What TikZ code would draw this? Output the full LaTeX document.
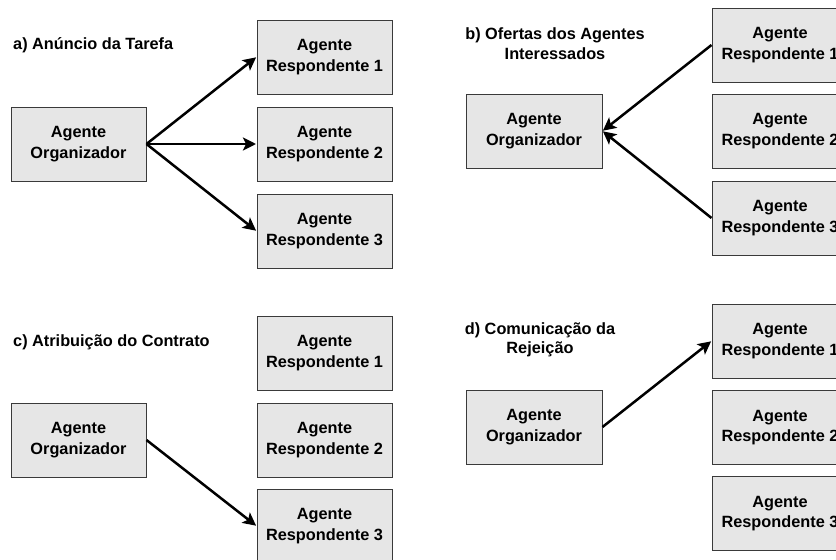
\documentclass[tikz,border=0pt]{standalone}
\usepackage{fontspec}
\setmainfont{Liberation Sans}
\usetikzlibrary{arrows.meta}
\definecolor{boxfill}{HTML}{E6E6E6}
\definecolor{boxline}{HTML}{3A3A3A}
\tikzset{
  agent/.style={draw=boxline, line width=1pt, fill=boxfill, minimum width=135pt,
    minimum height=74pt, inner sep=0pt, align=center,
    font=\fontsize{16.3}{20.7}\selectfont\bfseries},
  caption/.style={inner sep=0pt, align=center,
    font=\fontsize{16.3}{19.5}\selectfont\bfseries},
  msg/.style={line width=2.5pt, -{Stealth[length=13pt,width=13pt,inset=3pt]}, shorten >=0.5pt}
}
\begin{document}
\begin{tikzpicture}[x=1pt,y=-1pt]
\useasboundingbox (0,0) rectangle (836,560);
\clip (0,0) rectangle (836,560);
\fill[white] (0,0) rectangle (836,560);

% a) task announcement
\node[caption, anchor=west] (ta) at (13,45) {a) Anúncio da Tarefa};
\node[agent] (ao) at (78.5,144) {Agente\\Organizador};
\node[agent] (ar1) at (324.5,57) {Agente\\Respondente 1};
\node[agent] (ar2) at (324.5,144) {Agente\\Respondente 2};
\node[agent] (ar3) at (324.5,231) {Agente\\Respondente 3};
\draw[msg] (ao.east) -- (ar1.west);
\draw[msg] (ao.east) -- (ar2.west);
\draw[msg] (ao.east) -- (ar3.west);

% b) bids from the interested agents
\node[caption] (tb) at (555,43.5) {b) Ofertas dos Agentes\\Interessados};
\node[agent, minimum width=136pt] (bo) at (534,131) {Agente\\Organizador};
\node[agent, minimum width=136pt] (br1) at (780,45) {Agente\\Respondente 1};
\node[agent, minimum width=136pt] (br2) at (780,131) {Agente\\Respondente 2};
\node[agent, minimum width=136pt] (br3) at (780,218) {Agente\\Respondente 3};
\draw[msg] (br1.west) -- (bo.east);
\draw[msg] (br3.west) -- (bo.east);

% c) contract award
\node[caption, anchor=west] (tc) at (13,342) {c) Atribuição do Contrato};
\node[agent] (co) at (78.5,440) {Agente\\Organizador};
\node[agent] (cr1) at (324.5,353) {Agente\\Respondente 1};
\node[agent] (cr2) at (324.5,440) {Agente\\Respondente 2};
\node[agent] (cr3) at (324.5,526) {Agente\\Respondente 3};
\draw[msg] (co.east) -- (cr3.west);

% d) rejection notice
\node[caption] (td) at (540,340) {d) Comunicação da\\Rejeição};
\node[agent, minimum width=136pt] (do) at (534,427) {Agente\\Organizador};
\node[agent, minimum width=136pt] (dr1) at (780,341) {Agente\\Respondente 1};
\node[agent, minimum width=136pt] (dr2) at (780,427.5) {Agente\\Respondente 2};
\node[agent, minimum width=136pt] (dr3) at (780,513.5) {Agente\\Respondente 3};
\draw[msg] (do.east) -- (dr1.west);
\end{tikzpicture}
\end{document}
